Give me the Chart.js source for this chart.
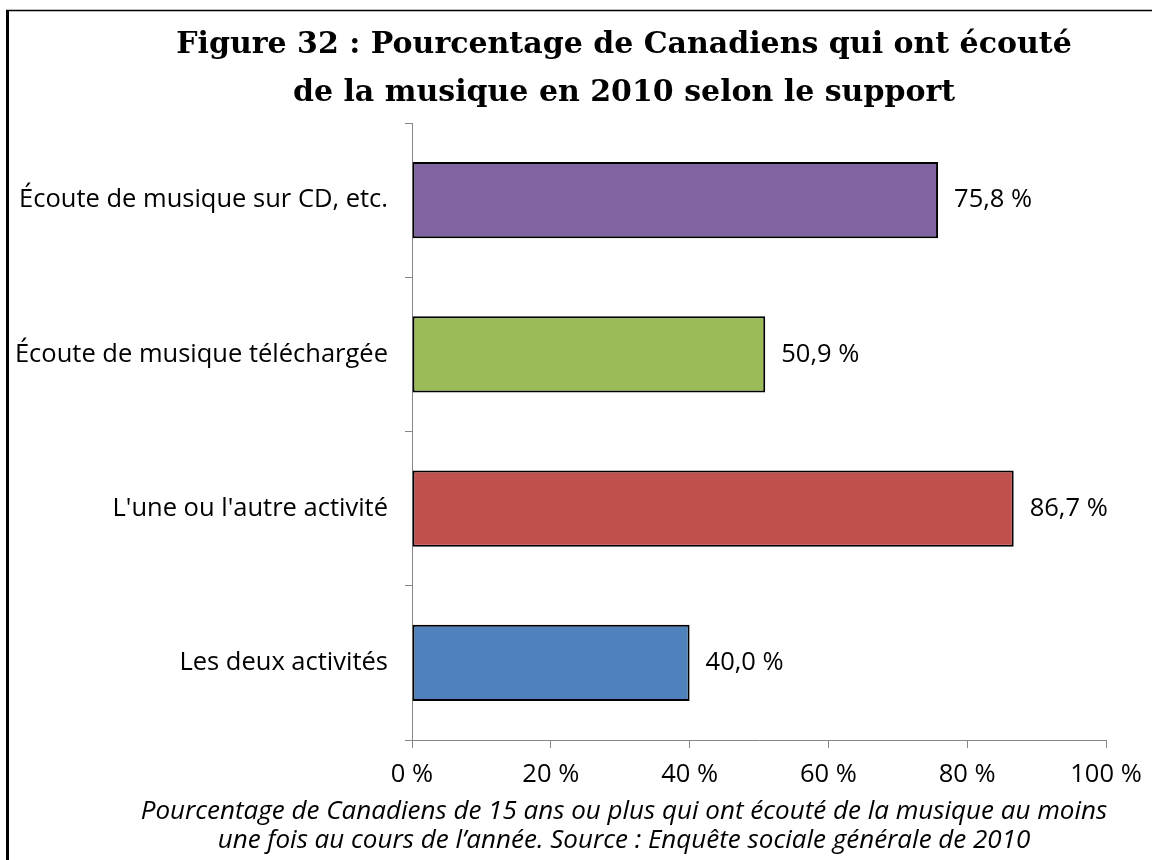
<!DOCTYPE html>
<html>
<head>
<meta charset="utf-8">
<script src="https://cdn.jsdelivr.net/npm/chart.js"></script>
<style>
  html, body { margin: 0; padding: 0; overflow: hidden; background: #fff; }
  #wrap { width: 1248px; height: 860px; }
</style>
</head>
<body>
<div id="wrap"><canvas id="chartSupport" width="1248" height="860"></canvas></div>
<script>
// Data
const categories = [
    'Écoute de musique sur CD, etc.',
    'Écoute de musique téléchargée',
    "L'une ou l'autre activité",
    'Les deux activités'
];
const percentages = [75.8, 50.9, 86.7, 40.0];
const barColors = ['#8064A2', '#9BBB59', '#C0504D', '#4F81BD'];
const titleLines = [
    'Figure 32 : Pourcentage de Canadiens qui ont écouté',
    'de la musique en 2010 selon le support'
];
const captionLines = [
    'Pourcentage de Canadiens de 15 ans ou plus qui ont écouté de la musique au moins',
    'une fois au cours de l’année. Source : Enquête sociale générale de 2010'
];

const labelFont = { family: 'Open Sans', size: 25.5 };
const axisGray = '#868686';

// Format numbers the French way: 75,8 %
function frPercent(v, digits) {
    return v.toFixed(digits).replace('.', ',') + ' %';
}

// Frame line on the left and top edges (the original is cropped on the right)
const framePlugin = {
    id: 'frame',
    beforeDraw(chart) {
        const ctx = chart.ctx;
        ctx.save();
        ctx.fillStyle = '#fff';
        ctx.fillRect(0, 0, chart.width, chart.height);
        ctx.strokeStyle = '#000';
        ctx.lineWidth = 3;
        ctx.beginPath();
        ctx.moveTo(7.5, 10);
        ctx.lineTo(7.5, chart.height);
        ctx.stroke();
        ctx.lineWidth = 1.5;
        ctx.beginPath();
        ctx.moveTo(6, 10.5);
        ctx.lineTo(chart.width, 10.5);
        ctx.stroke();
        ctx.restore();
    }
};

// Value labels at the end of each bar
const valueLabels = {
    id: 'valueLabels',
    afterDatasetsDraw(chart) {
        const ctx = chart.ctx;
        const meta = chart.getDatasetMeta(0);
        ctx.save();
        ctx.font = labelFont.size + 'px "' + labelFont.family + '"';
        ctx.fillStyle = '#000';
        ctx.textAlign = 'left';
        ctx.textBaseline = 'middle';
        meta.data.forEach((bar, i) => {
            ctx.fillText(frPercent(percentages[i], 1), bar.x + 16, bar.y);
        });
        ctx.restore();
    }
};

const ctxSupport = document.getElementById('chartSupport').getContext('2d');
new Chart(ctxSupport, {
    type: 'bar',
    data: {
        labels: categories,
        datasets: [{
            data: percentages,
            backgroundColor: barColors,
            borderColor: '#000',
            borderWidth: 2,
            borderSkipped: false,
            categoryPercentage: 0.5,
            barPercentage: 0.99
        }]
    },
    options: {
        indexAxis: 'y',
        responsive: false,
        animation: false,
        layout: { padding: { left: 0, right: 0, top: 0, bottom: 5 } },
        plugins: {
            legend: { display: false },
            tooltip: { enabled: false },
            title: {
                display: true,
                text: titleLines,
                color: '#000',
                font: { family: 'DejaVu Serif', weight: 'bold', size: 30, lineHeight: '48px' },
                padding: { top: 21, bottom: 6 }
            },
            subtitle: {
                display: true,
                position: 'bottom',
                text: captionLines,
                color: '#000',
                font: { family: 'Open Sans', style: 'italic', size: 26, lineHeight: '29px' },
                padding: { top: 0, bottom: 0 }
            }
        },
        scales: {
            x: {
                min: 0,
                max: 100,
                afterFit: scale => { scale.height = 57; },
                border: { color: axisGray },
                grid: { drawOnChartArea: false, tickLength: 8, color: axisGray },
                ticks: {
                    stepSize: 20,
                    color: '#000',
                    font: labelFont,
                    padding: 11,
                    maxRotation: 0,
                    callback: v => v + ' %'
                }
            },
            y: {
                afterFit: scale => { scale.width = 412; },
                border: { color: axisGray },
                grid: { offset: true, drawOnChartArea: false, tickLength: 7, color: axisGray },
                ticks: { color: '#000', font: labelFont, padding: 17 }
            },
            // empty right-hand space of the original (cropped) chart
            yRight: {
                type: 'category',
                position: 'right',
                afterFit: scale => { scale.width = 142; },
                border: { display: false },
                grid: { display: false },
                ticks: { display: false }
            }
        }
    },
    plugins: [framePlugin, valueLabels]
});
</script>
</body>
</html>
